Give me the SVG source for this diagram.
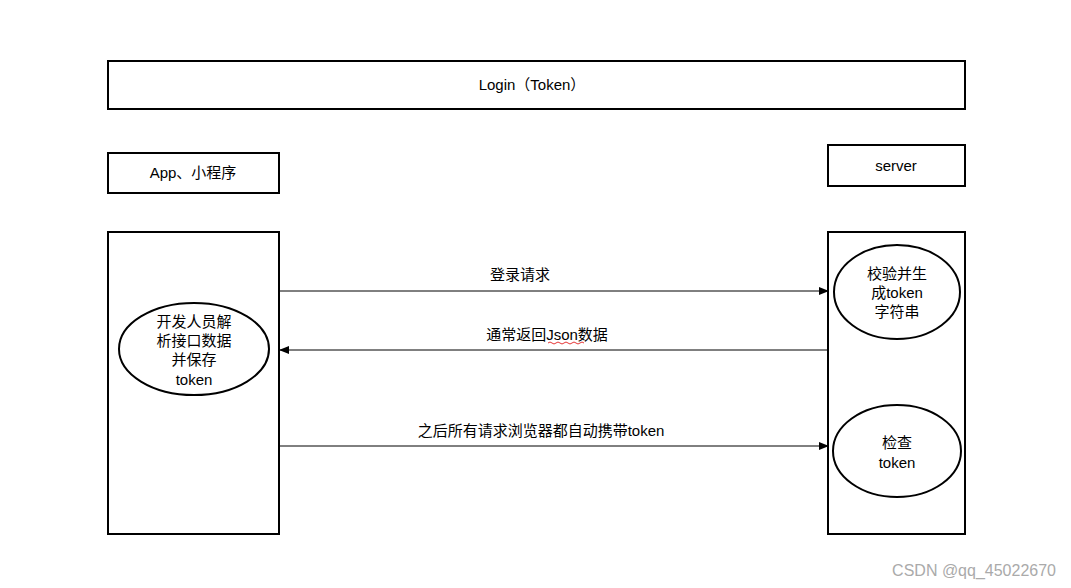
<svg xmlns="http://www.w3.org/2000/svg" width="1071" height="588" viewBox="0 0 1071 588">
<style>
.b{fill:#fff;stroke:#000;stroke-width:2}
.t{font-family:"Liberation Sans","Noto Sans CJK SC",sans-serif;font-size:15px;fill:#000;text-anchor:middle}
.c{stroke:#000;stroke-width:1}
</style>
<defs><marker id="a" markerWidth="10" markerHeight="8" refX="9" refY="4" orient="auto" markerUnits="userSpaceOnUse"><path d="M0,0L10,4L0,8z" fill="#000"/></marker></defs>
<rect width="1071" height="588" fill="#fff"/>
<g id="title"><rect class="b" x="108" y="61" width="857" height="48"/><text class="t" x="532" y="90">Login（Token）</text></g>
<g id="app"><rect class="b" x="108" y="153" width="171" height="40"/><text class="t" x="193" y="178">App、小程序</text></g>
<g id="server"><rect class="b" x="828" y="145" width="137" height="41"/><text class="t" x="896" y="171">server</text></g>
<g id="client-box"><rect class="b" x="108" y="232" width="171" height="302"/></g>
<g id="server-box"><rect class="b" x="828" y="232" width="137" height="302"/></g>
<g id="parse"><ellipse class="b" cx="194" cy="349" rx="75" ry="46"/><text class="t" x="194" y="327">开发人员解</text><text class="t" x="194" y="346">析接口数据</text><text class="t" x="194" y="365">并保存</text><text class="t" x="194" y="385">token</text></g>
<g id="gen"><ellipse class="b" cx="897" cy="292" rx="63" ry="47"/><text class="t" x="897" y="279">校验并生</text><text class="t" x="897" y="298">成token</text><text class="t" x="897" y="317">字符串</text></g>
<g id="check"><ellipse class="b" cx="897" cy="451" rx="64" ry="46"/><text class="t" x="897" y="448">检查</text><text class="t" x="897" y="468">token</text></g>
<g id="connectors">
<line class="c" x1="279" y1="291" x2="828" y2="291" marker-end="url(#a)"/>
<line class="c" x1="828" y1="350" x2="280" y2="350" marker-end="url(#a)"/>
<line class="c" x1="279" y1="446" x2="828" y2="446" marker-end="url(#a)"/>
<text class="t" x="520" y="280">登录请求</text>
<text class="t" x="547" y="340">通常返回Json数据</text>
<path d="M548,343q2,-2 4,0t4,0t4,0t4,0t4,0t4,0t4,0t4,0t4,0" fill="none" stroke="#d00" stroke-width="0.8"/>
<text class="t" x="541" y="436">之后所有请求浏览器都自动携带token</text>
</g>
<text x="1056" y="576" style="font-family:'Liberation Sans',sans-serif;font-size:16px;fill:#aaa;text-anchor:end">CSDN @qq_45022670</text>
</svg>
